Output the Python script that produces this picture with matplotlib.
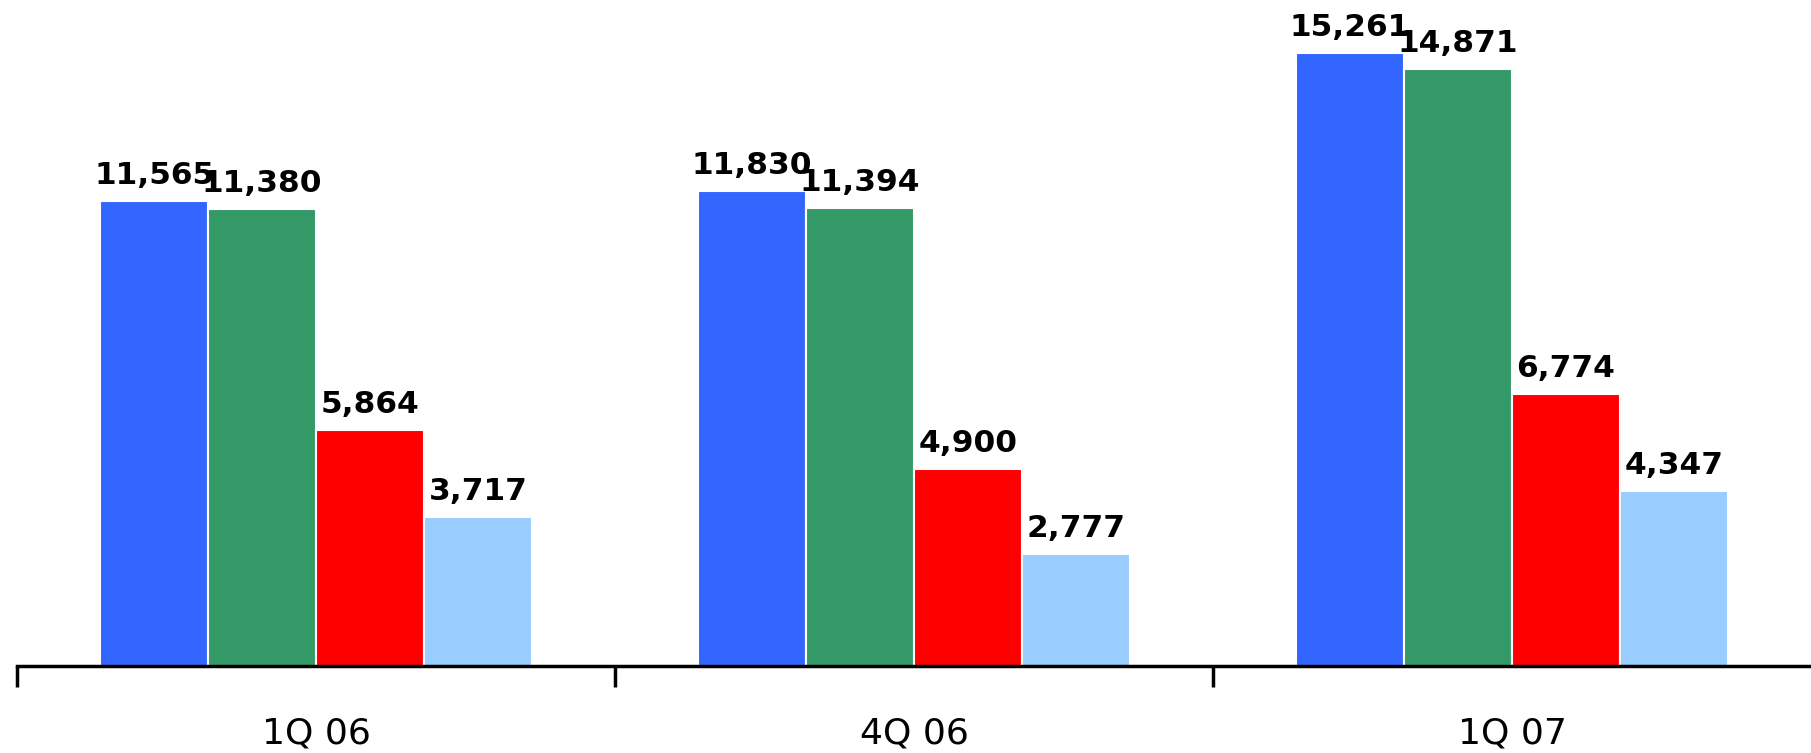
import matplotlib
matplotlib.use('Agg')
import matplotlib.pyplot as plt
import numpy as np

# --- data ---
quarters = ['1Q 06', '4Q 06', '1Q 07']
series_a = [11565, 11830, 15261]
series_b = [11380, 11394, 14871]
series_c = [5864, 4900, 6774]
series_d = [3717, 2777, 4347]

colors = ['#3366FF', '#339966', '#FF0000', '#99CCFF']

fig = plt.figure(figsize=(18.11, 7.53), dpi=100)
ax = fig.add_axes([17 / 1811, 87 / 753, 1 - 17 / 1811, 1 - 87 / 753])

x = np.arange(len(quarters))
w = 0.1805
offsets = [-1.5 * w, -0.5 * w, 0.5 * w, 1.5 * w]

for vals, col, off in zip([series_a, series_b, series_c, series_d], colors, offsets):
    bars = ax.bar(x + off, vals, width=w, color=col, edgecolor='white', linewidth=1.5)
    for b, v in zip(bars, vals):
        ax.annotate(f'{v:,}', (b.get_x() + b.get_width() / 2, v),
                    xytext=(0, 8), textcoords='offset points',
                    ha='center', va='bottom', fontsize=22.5, fontweight='bold')

ax.set_xlim(-0.5, 2.5)
ax.set_ylim(0, 16580)

# axis cosmetics
for s in ['top', 'right', 'left']:
    ax.spines[s].set_visible(False)
ax.spines['bottom'].set_linewidth(2.5)
ax.set_yticks([])
ax.set_xticks(x)
ax.set_xticklabels(quarters, fontsize=26)
ax.tick_params(axis='x', which='major', length=0, pad=36)
ax.set_xticks([-0.5, 0.5, 1.5], minor=True)
ax.tick_params(axis='x', which='minor', length=15, width=2.5, direction='out')

fig.savefig('out.png', dpi=100)
